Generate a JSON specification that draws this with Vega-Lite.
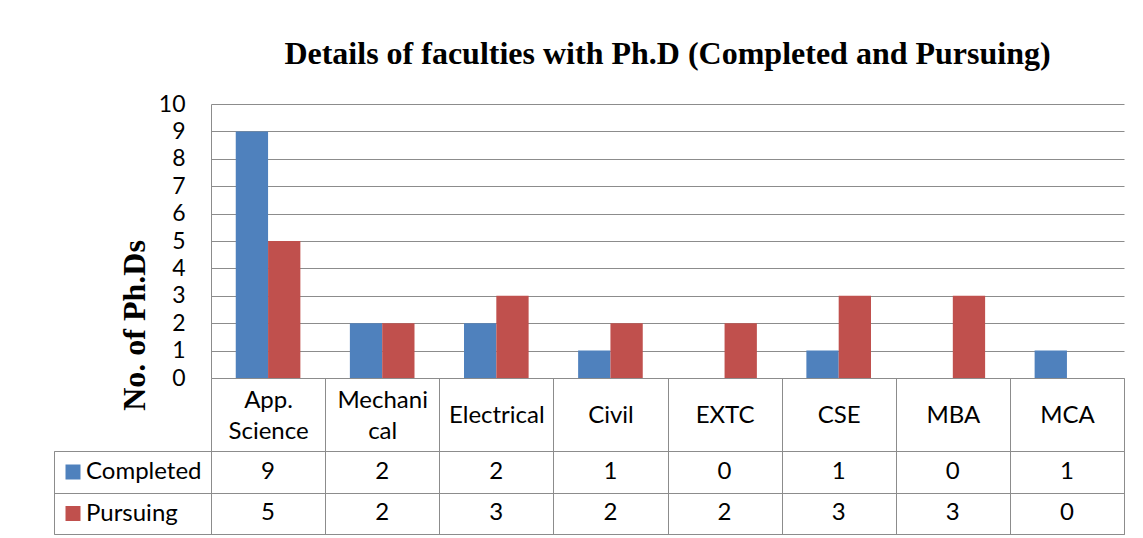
{
  "$schema": "https://vega.github.io/schema/vega-lite/v6.json",
  "autosize": {"type": "pad"},
  "padding": {"left": 53, "top": 38, "right": 0, "bottom": 0},
  "background": "white",
  "config": {
    "view": {"stroke": null},
    "font": "Lato"
  },
  "datasets": {
    "phd": [
      {"dept": "App. Science", "series": "Completed", "count": 9},
      {"dept": "App. Science", "series": "Pursuing", "count": 5},
      {"dept": "Mechanical", "series": "Completed", "count": 2},
      {"dept": "Mechanical", "series": "Pursuing", "count": 2},
      {"dept": "Electrical", "series": "Completed", "count": 2},
      {"dept": "Electrical", "series": "Pursuing", "count": 3},
      {"dept": "Civil", "series": "Completed", "count": 1},
      {"dept": "Civil", "series": "Pursuing", "count": 2},
      {"dept": "EXTC", "series": "Completed", "count": 0},
      {"dept": "EXTC", "series": "Pursuing", "count": 2},
      {"dept": "CSE", "series": "Completed", "count": 1},
      {"dept": "CSE", "series": "Pursuing", "count": 3},
      {"dept": "MBA", "series": "Completed", "count": 0},
      {"dept": "MBA", "series": "Pursuing", "count": 3},
      {"dept": "MCA", "series": "Completed", "count": 1},
      {"dept": "MCA", "series": "Pursuing", "count": 0}
    ],
    "series": [
      {"series": "Completed"},
      {"series": "Pursuing"}
    ]
  },
  "columns": 2,
  "spacing": {"row": 73, "column": 0},
  "bounds": "flush",
  "align": "each",
  "resolve": {
    "scale": {"x": "independent", "y": "independent", "color": "independent"},
    "legend": {"color": "independent"}
  },
  "concat": [
    {
      "width": 157,
      "height": 274,
      "data": {"name": "series"},
      "mark": {"type": "text", "text": ""},
      "encoding": {}
    },
    {
      "width": 913,
      "height": 274,
      "data": {"name": "phd"},
      "title": {
        "text": "Details of faculties with Ph.D (Completed and Pursuing)",
        "font": "Liberation Serif",
        "fontSize": 32,
        "fontWeight": "bold",
        "color": "black",
        "anchor": "middle",
        "offset": 22
      },
      "mark": {"type": "bar"},
      "encoding": {
        "x": {
          "field": "dept",
          "type": "nominal",
          "sort": ["App. Science", "Mechanical", "Electrical", "Civil", "EXTC", "CSE", "MBA", "MCA"],
          "scale": {"paddingInner": 0, "paddingOuter": 0},
          "axis": {
            "title": null,
            "labelExpr": "datum.value == 'App. Science' ? ['App.', 'Science'] : datum.value == 'Mechanical' ? ['Mechani', 'cal'] : datum.value",
            "labelFont": "Lato",
            "labelFontSize": 24,
            "labelColor": "black",
            "labelAngle": 0,
            "labelBaseline": "middle",
            "labelLineHeight": 31,
            "labelPadding": {
              "condition": {"test": "datum.value == 'App. Science' || datum.value == 'Mechanical'", "value": -51},
              "value": -36
            },
            "tickBand": "extent",
            "tickSize": 73,
            "tickColor": "#8c8c8c",
            "tickWidth": 1,
            "domainColor": "#8c8c8c",
            "domainWidth": 1,
            "grid": false
          }
        },
        "xOffset": {
          "field": "series",
          "type": "nominal",
          "sort": ["Completed", "Pursuing"],
          "scale": {"paddingInner": 0, "paddingOuter": 0.766}
        },
        "y": {
          "field": "count",
          "type": "quantitative",
          "scale": {"domain": [0, 10], "nice": false},
          "axis": {
            "title": "No. of Ph.Ds",
            "titleFont": "Liberation Serif",
            "titleFontSize": 32,
            "titleFontWeight": "bold",
            "titleColor": "black",
            "titleAngle": 270,
            "titleAlign": "center",
            "titleBaseline": "alphabetic",
            "titleX": -67,
            "titleY": 221,
            "values": [0, 1, 2, 3, 4, 5, 6, 7, 8, 9, 10],
            "labelFont": "Lato",
            "labelFontSize": 23,
            "labelColor": "black",
            "labelPadding": 26,
            "labelOverlap": false,
            "labelFlush": false,
            "ticks": false,
            "domainColor": "#8c8c8c",
            "domainWidth": 1,
            "grid": true,
            "gridColor": "#8c8c8c",
            "gridOpacity": 1,
            "gridWidth": 1
          }
        },
        "color": {
          "field": "series",
          "type": "nominal",
          "scale": {"domain": ["Completed", "Pursuing"], "range": ["#4F81BD", "#C0504D"]},
          "legend": {
            "title": null,
            "orient": "none",
            "legendX": -150,
            "legendY": 356,
            "direction": "vertical",
            "symbolType": "square",
            "symbolSize": 225,
            "symbolStrokeWidth": 0,
            "labelFont": "Lato",
            "labelFontSize": 24,
            "labelColor": "black",
            "labelOffset": 1,
            "rowPadding": 17.5,
            "padding": 0
          }
        }
      }
    },
    {
      "width": 157,
      "height": 83,
      "view": {"stroke": "#8c8c8c"},
      "data": {"name": "series"},
      "mark": {"type": "text", "text": ""},
      "encoding": {
        "y": {
          "field": "series",
          "type": "nominal",
          "sort": ["Completed", "Pursuing"],
          "scale": {"type": "band", "paddingInner": 0, "paddingOuter": 0},
          "axis": {
            "title": null,
            "labels": false,
            "ticks": false,
            "domain": false,
            "grid": true,
            "tickBand": "extent",
            "gridColor": "#8c8c8c",
            "gridOpacity": 1
          }
        }
      }
    },
    {
      "width": 913,
      "height": 83,
      "view": {"stroke": "#8c8c8c"},
      "data": {"name": "phd"},
      "mark": {"type": "text", "font": "Lato", "fontSize": 24, "color": "black"},
      "encoding": {
        "x": {
          "field": "dept",
          "type": "nominal",
          "sort": ["App. Science", "Mechanical", "Electrical", "Civil", "EXTC", "CSE", "MBA", "MCA"],
          "scale": {"type": "band", "paddingInner": 0, "paddingOuter": 0},
          "axis": {
            "title": null,
            "labels": false,
            "ticks": false,
            "domain": false,
            "grid": true,
            "tickBand": "extent",
            "gridColor": "#8c8c8c",
            "gridOpacity": 1
          }
        },
        "y": {
          "field": "series",
          "type": "nominal",
          "sort": ["Completed", "Pursuing"],
          "scale": {"type": "band", "paddingInner": 0, "paddingOuter": 0},
          "axis": {
            "title": null,
            "labels": false,
            "ticks": false,
            "domain": false,
            "grid": true,
            "tickBand": "extent",
            "gridColor": "#8c8c8c",
            "gridOpacity": 1
          }
        },
        "text": {"field": "count", "type": "quantitative"}
      }
    }
  ]
}
